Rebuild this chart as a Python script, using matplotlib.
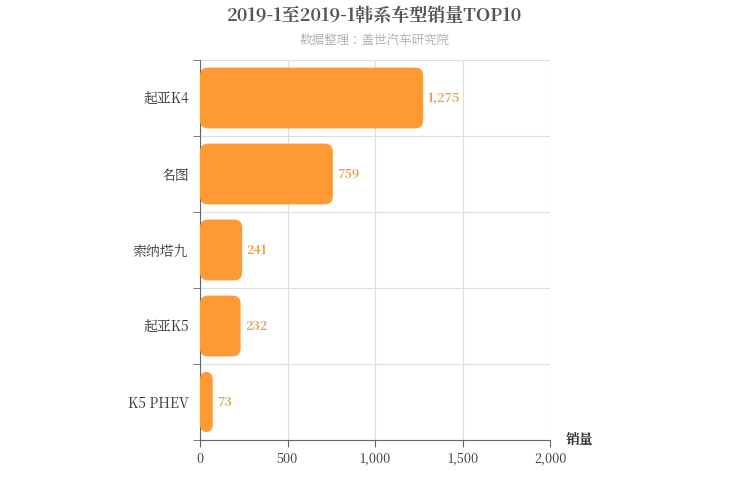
import matplotlib
matplotlib.use("Agg")
import matplotlib.pyplot as plt
from matplotlib.patches import FancyBboxPatch
from matplotlib import font_manager

cjk = [f.name for f in font_manager.fontManager.ttflist if "CJK" in f.name]
pref = [n for n in cjk if "SC" in n] or cjk
plt.rcParams['font.family'] = (pref[:1] if pref else []) + ['DejaVu Sans']
plt.rcParams['font.sans-serif'] = (pref[:1] if pref else []) + ['DejaVu Sans']

categories = ["起亚K4", "名图", "索纳塔九", "起亚K5", "K5 PHEV"]
values = [1275, 759, 241, 232, 73]
xticks = [0, 500, 1000, 1500, 2000]
xticklabels = ["0", "500", "1,000", "1,500", "2,000"]

fig = plt.figure(figsize=(7.5, 5), dpi=100)
ax = fig.add_axes([200/750, 0.12, 350/750, 0.76])
ax.set_xlim(0, 2000)
n = len(categories)
ax.set_ylim(n - 0.5, -0.5)

rx = 8 * 2000 / 350
ry = 8 * n / 380
for i, v in enumerate(values):
    p = FancyBboxPatch((0, i - 0.4), v, 0.8,
                       boxstyle=f"round,pad=0,rounding_size={rx}",
                       mutation_aspect=ry / rx,
                       fc="#FF9933", ec="none", zorder=3)
    ax.add_patch(p)
    ax.text(v + 25, i, f"{v:,}", va="center", ha="left", fontsize=9,
            fontweight="bold", color="#E8A040", zorder=4)

ax.set_xticks(xticks)
ax.set_xticklabels(xticklabels, fontsize=9, color="#333333")
ax.set_yticks(range(n))
ax.set_yticklabels(categories, fontsize=10, color="#333333")
ax.tick_params(axis='y', length=0, pad=8)
ax.tick_params(axis='x', length=5, color="#666666")
ax.set_yticks([i + 0.5 for i in range(-1, n)], minor=True)
ax.tick_params(axis='y', which='minor', length=5, color="#666666")
ax.grid(axis='x', color="#DDDDDD", lw=0.8, zorder=0)
ax.grid(axis='y', which='minor', color="#DDDDDD", lw=0.8, zorder=0)
for s in ['top', 'right']:
    ax.spines[s].set_visible(False)
ax.spines['left'].set_color("#666666")
ax.spines['bottom'].set_color("#666666")

fig.text(0.5, 0.968, "2019-1至2019-1韩系车型销量TOP10", ha="center", va="center",
         fontsize=13, fontweight="bold", color="#555555")
fig.text(0.5, 0.918, "数据整理：盖世汽车研究院", ha="center", va="center",
         fontsize=9, color="#AAAAAA")
fig.text(580/750, 1 - 440/500, "销量", ha="center", va="center",
         fontsize=10, fontweight="bold", color="#333333")

fig.savefig("out.png", dpi=100)
